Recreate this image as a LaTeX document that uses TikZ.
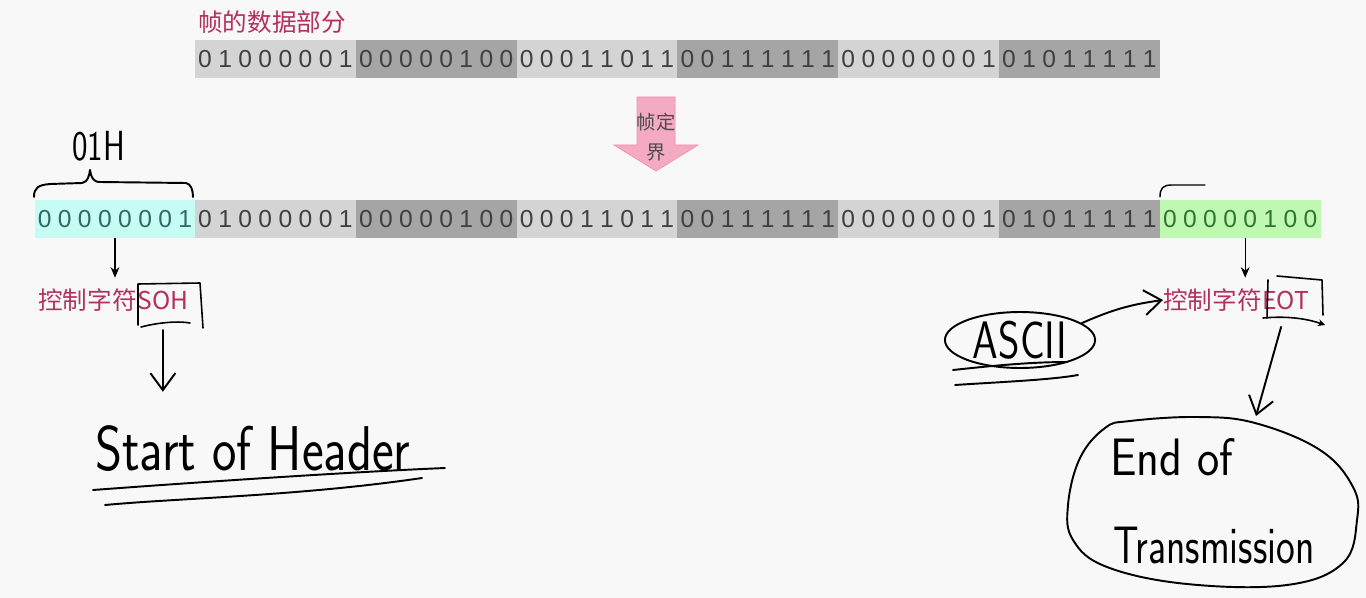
\documentclass[tikz,border=0pt]{standalone}
\usepackage{fontspec}
\setmainfont{Liberation Sans}
\newfontfamily\cjk{Noto Sans CJK SC}
\usetikzlibrary{positioning,arrows.meta,shapes.geometric}
\definecolor{paper}{HTML}{F8F8F8}
\definecolor{lgray}{HTML}{D4D4D4}
\definecolor{dgray}{HTML}{A5A5A5}
\definecolor{sohbg}{HTML}{C6FCF4}
\definecolor{sohtxt}{HTML}{2E6B66}
\definecolor{eotbg}{HTML}{BEF8B2}
\definecolor{eottxt}{HTML}{2E782E}
\definecolor{crim}{HTML}{B3305F}
\definecolor{pinkarr}{HTML}{F5AAC4}
% spread the digits of a byte over the cell
\newcommand\SpreadBits[1]{\expandafter\SpreadLoop#1\relax}
\def\SpreadLoop#1{\ifx#1\relax\else\makebox[0.402cm]{#1}\expandafter\SpreadLoop\fi}
\tikzset{
    seg/.style={minimum width=3.216cm, minimum height=0.76cm, inner sep=0pt,
        font=\fontsize{14}{14}\selectfont, text=black!75},
    cjklabel/.style={text=crim, font=\cjk\fontsize{14}{14}\selectfont, inner sep=0pt},
    hand/.style={line width=1.1pt, line cap=round, line join=round},
    handtext/.style={font=\sffamily\fontsize{#1}{#1}\selectfont, inner sep=0pt, xscale=0.78},
    ptr/.style={-{Stealth[length=6pt,width=5pt]}, line width=0.8pt},
    barb/.style={hand, -{Straight Barb[length=3.4mm,width=5mm]}},
}

\begin{document}
\begin{tikzpicture}[x=0.02cm, y=-0.02cm]
    \fill[paper] (0,0) rectangle (1366,598);
    \useasboundingbox (0,0) rectangle (1366,598);
    % frame data
    \node[cjklabel, anchor=west] (title) at (198,22) {帧的数据部分};
    \foreach \b/\c [count=\i] in {01000001/lgray,00000100/dgray,00011011/lgray,
                                  00111111/dgray,00000001/lgray,01011111/dgray}
        \node[seg, fill=\c] (t\i) at ({275.4+(\i-1)*160.8},59) {\SpreadBits{\b}};
    % framing arrow
    \filldraw[fill=pinkarr, draw=pinkarr!85!red] (637,97) -- (675,97) -- (675,145) -- (698,145)
        -- (656,171) -- (614,145) -- (637,145) -- cycle;
    \node[font=\cjk\fontsize{11}{17}\selectfont, text=black!70, align=center] (frm) at (656,137) {帧定\\界};
    % framed row
    \node[seg, fill=sohbg, text=sohtxt] (m0) at (115,219) {\SpreadBits{00000001}};
    \foreach \b/\c [count=\i] in {01000001/lgray,00000100/dgray,00011011/lgray,
                                  00111111/dgray,00000001/lgray,01011111/dgray}
        \node[seg, fill=\c] (m\i) at ({275.4+(\i-1)*160.8},219) {\SpreadBits{\b}};
    \node[seg, fill=eotbg, text=eottxt] (m7) at (1240.2,219) {\SpreadBits{00000100}};
    % SOH side
    \node[handtext=24, anchor=base west] (hex) at (72,160) {01H};
    \draw[hand] (34,197) .. controls (34,188) and (38,185) .. (50,184) -- (82,183)
        .. controls (88,182) and (89,176) .. (90,170) .. controls (91,177) and (93,182) .. (100,182)
        -- (186,183) .. controls (191,184) and (193,190) .. (193,197);
    \node[cjklabel, anchor=west] (sohc) at (38,300) {控制字符};
    \node[cjklabel, anchor=base west] (soh) at (sohc.base east) {SOH};
    \draw[ptr, shorten >=6pt] (m0.south) -- (m0.south |- sohc.north);
    \draw[hand, line width=0.9pt] (138,325) -- (138,284) -- (200,283) -- (203,328);
    \draw[hand, line width=0.9pt] (141,327) .. controls (160,322) and (180,321) .. (190,323);
    \node[handtext=36, xscale=1.05, anchor=base west] (hdr) at (95,470) {Start of Header};
    \draw[barb, shorten <=0.4cm, shorten >=0.66cm] (soh.south) -- (soh.south |- hdr.north);
    \draw[hand] (93,490) .. controls (200,482) and (350,472) .. (445,468);
    \draw[hand] (105,505) .. controls (180,498) and (300,496) .. (422,478);
    % EOT side
    \draw[hand, line width=0.8pt] (1160,197) .. controls (1160,188) and (1163,185) .. (1172,185) -- (1205,185);
    \node[cjklabel, anchor=west] (eotc) at (1163,300) {控制字符};
    \node[cjklabel, anchor=base west] (eot) at (eotc.base east) {EOT};
    \draw[ptr, shorten >=6pt] ([xshift=0.1cm]m7.south) -- ([xshift=0.1cm]m7.south |- eotc.north);
    \draw[hand, line width=0.9pt] (1267,318) -- (1268,280);
    \draw[hand, line width=0.9pt] (1277,276) -- (1322,280) -- (1323,315);
    \draw[hand, line width=0.9pt, -{Stealth[length=4pt,width=4pt]}] (1263,318)
        .. controls (1285,316) and (1305,318) .. (1325,325);
    \node[draw, ellipse, hand, handtext=30, minimum width=3.85cm, minimum height=1.12cm] (asc) at (1020,340) {ASCII};
    \draw[hand] (953,370) .. controls (990,366) and (1030,362) .. (1067,362);
    \draw[hand] (955,385) .. controls (1000,382) and (1050,380) .. (1078,375);
    \draw[barb] (asc.12) to[bend left=8] (eotc.west);
    \draw[hand] plot[smooth cycle, tension=0.65] coordinates {(1130,421) (1197,417) (1255,423)
        (1320,450) (1353,487) (1357,520) (1343,563) (1287,585) (1187,584) (1107,567)
        (1073,540) (1068,505) (1080,458) (1105,428)};
    \coordinate (blobtop) at (1256,416);
    \draw[barb, shorten <=0.35cm] (eot.south) -- (blobtop);
    \node[handtext=30, xscale=1.15, anchor=base west] (endof) at (1110,475) {End of};
    \node[handtext=30, xscale=0.97, anchor=base west] (trans) at (1113,563) {Transmission};
\end{tikzpicture}
\end{document}
